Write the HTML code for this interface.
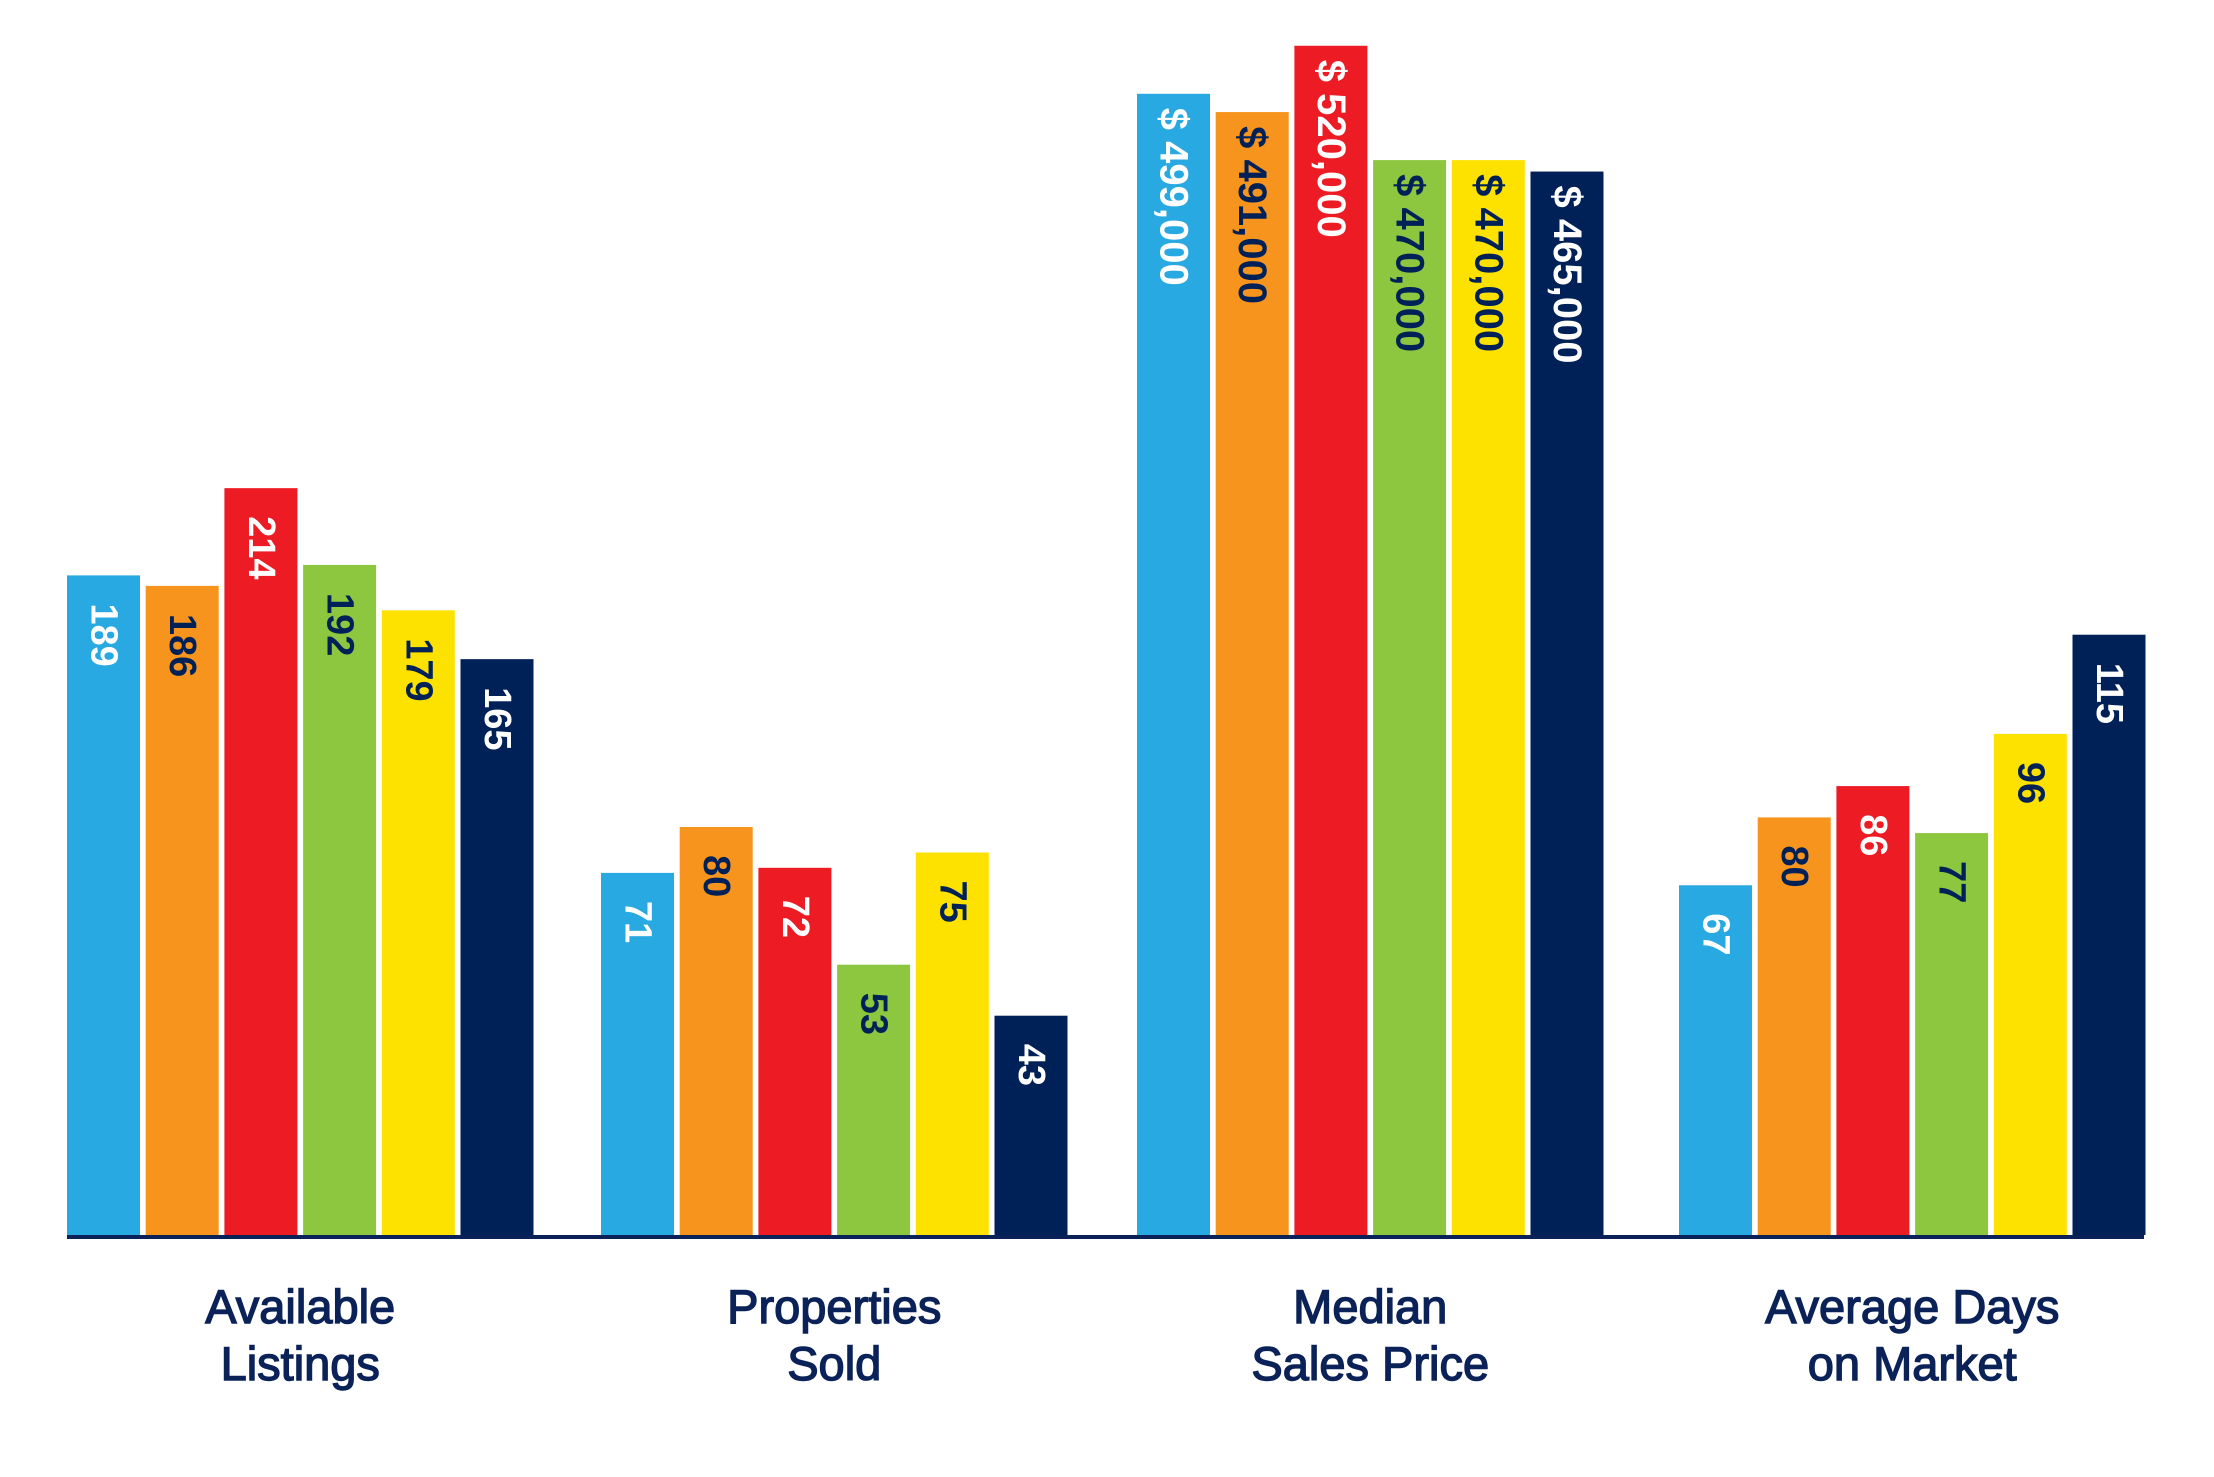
<!DOCTYPE html>
<html><head><meta charset="utf-8"><style>
html,body{margin:0;padding:0;background:#fff;}
svg{display:block;}
text{font-family:"Liberation Sans",sans-serif;}
</style></head><body>
<svg id="chart" width="2214" height="1477" viewBox="0 0 2214 1477" xmlns="http://www.w3.org/2000/svg"></svg>
<script>
const categories = ["Available Listings","Properties Sold","Median Sales Price","Average Days on Market"];
const availableListings = [189,186,214,192,179,165];
const propertiesSold = [71,80,72,53,75,43];
const medianSalesPrice = [499000,491000,520000,470000,470000,465000];
const avgDaysOnMarket = [67,80,86,77,96,115];
const valueLabels = [
  ["189","186","214","192","179","165"],
  ["71","80","72","53","75","43"],
  ["$ 499,000","$ 491,000","$ 520,000","$ 470,000","$ 470,000","$ 465,000"],
  ["67","80","86","77","96","115"]
];
const series = [availableListings, propertiesSold, medianSalesPrice, avgDaysOnMarket];
const groupScale = [3.49, 5.1, 0.002287, 5.22]; // px per unit per group
const colors = ["#29a9e1","#f7941e","#ed1c24","#8dc63f","#fde200","#002157"];
const textColors = ["#fff","#002157","#fff","#002157","#002157","#fff"];
const NS="http://www.w3.org/2000/svg";
const svg=document.getElementById('chart');
const baseY=1235, groupLeft=[67,601,1137,1679], barW=73, barPitch=78.7;
function xPos(g,i){return groupLeft[g]+i*barPitch;}
function yPos(g,v){return baseY - v*groupScale[g];}
series.forEach((vals,g)=>{
  vals.forEach((v,i)=>{
    const x=xPos(g,i), y=yPos(g,v);
    const r=document.createElementNS(NS,'rect');
    r.setAttribute('x',x);r.setAttribute('y',y);r.setAttribute('width',barW);r.setAttribute('height',baseY-y);
    r.setAttribute('fill',colors[i]);
    
    
    svg.appendChild(r);
    const t=document.createElementNS(NS,'text');
    const cx=x+barW/2, ty=y+(g===2?14:28);
    t.setAttribute('transform','translate('+cx+','+ty+') rotate(90)');
    t.setAttribute('x',0);t.setAttribute('y',0);
    t.setAttribute('dominant-baseline','central');
    t.setAttribute('font-size',g===2?40:38);
    t.setAttribute('font-weight','bold');
    t.setAttribute('fill',textColors[i]);
    t.textContent=valueLabels[g][i];
    
    
    svg.appendChild(t);
  });
  const words=[["Available","Listings"],["Properties","Sold"],["Median","Sales Price"],["Average Days","on Market"]][g];
  const gx=xPos(g,0)+(5*barPitch+barW)/2;
  words.forEach((w,k)=>{
    const t=document.createElementNS(NS,'text');
    t.setAttribute('x',gx);t.setAttribute('y',1323+k*57);
    t.setAttribute('text-anchor','middle');
    t.setAttribute('font-size',47);
    t.setAttribute('fill','#0b2258');
    t.setAttribute('stroke','#0b2258');t.setAttribute('stroke-width','1.4');
    t.textContent=w;
    
    
    svg.appendChild(t);
  });
});
const ax=document.createElementNS(NS,'rect');
ax.setAttribute('x',67);ax.setAttribute('y',1235);ax.setAttribute('width',2077);ax.setAttribute('height',4);
ax.setAttribute('fill','#0b2258');


svg.appendChild(ax);
</script>
</body></html>
